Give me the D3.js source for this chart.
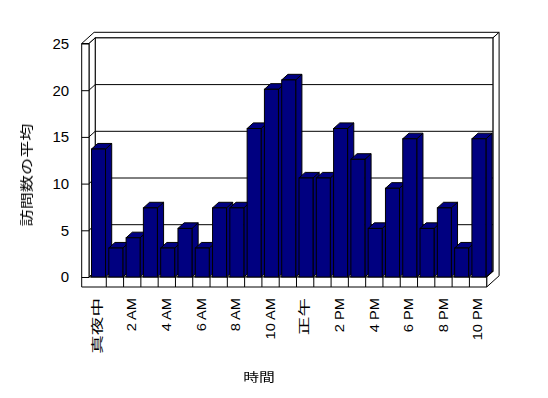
<!DOCTYPE html>
<html>
<head>
<meta charset="utf-8">
<script src="https://cdn.jsdelivr.net/npm/d3@7"></script>
<style>
  body { margin: 0; background: #fff; }
  svg { display: block; }
  text { font-family: "Liberation Sans", Arial, "Noto Sans CJK JP", sans-serif; fill: #000; }
</style>
</head>
<body>
<div id="chart"></div>
<script>
// 時間ごとの訪問数の平均 (23 hours, 11 PM is not in the sheet)
const hours = ['真夜中', '1 AM', '2 AM', '3 AM', '4 AM', '5 AM', '6 AM', '7 AM', '8 AM', '9 AM',
  '10 AM', '11 AM', '正午', '1 PM', '2 PM', '3 PM', '4 PM', '5 PM', '6 PM', '7 PM', '8 PM', '9 PM', '10 PM'];
const visits = [13.7, 3.1, 4.2, 7.4, 3.1, 5.2, 3.1, 7.4, 7.4, 15.9, 20.1, 21.1,
  10.6, 10.6, 15.9, 12.6, 5.2, 9.5, 14.8, 5.2, 7.4, 3.1, 14.8];
const yTicks = [0, 5, 10, 15, 20, 25];
const yTitle = '訪問数の平均';
const xTitle = '時間';

const width = 548, height = 398;
const plot = { left: 89, right: 486.7, top: 43.5, bottom: 277 };
const depth = { dx: 6.2, dy: -5.6 };   // 3D offset front -> back wall
const wallW = 7.3;                      // left wall thickness
const floorH = 10;                      // floor thickness
const barFill = '#000080';

const svg = d3.select('#chart').append('svg')
  .attr('width', width)
  .attr('height', height);

const x = d3.scaleBand().domain(hours).range([plot.left, plot.right]);
const y = d3.scaleLinear().domain([0, 25]).range([plot.bottom, plot.top]);

const x0 = plot.left, x1 = plot.right, y0 = y(0), y25 = y(25);
const dx = depth.dx, dy = depth.dy;
const pts = arr => arr.map(p => p.join(',')).join(' ');
const frame = svg.append('g').attr('fill', '#fff').attr('stroke', '#000').attr('stroke-width', 1);

// top of left wall + back wall
frame.append('polygon').attr('points', pts([
  [x0 - wallW, y25], [x0, y25], [x0 + dx, y25 + dy], [x1 + dx, y25 + dy],
  [x1 + 2 * dx, y25 + 2 * dy], [x0 - wallW + 2 * dx, y25 + 2 * dy]
]));

// right side of back wall and floor
frame.append('polygon').attr('points', pts([
  [x1, y0], [x1, y0 + floorH], [x1 + 2 * dx, y0 + floorH + 2 * dy],
  [x1 + 2 * dx, y25 + 2 * dy], [x1 + dx, y25 + dy], [x1 + dx, y0 + dy]
]));

// back wall face
frame.append('rect')
  .attr('x', x0 + dx).attr('y', y25 + dy)
  .attr('width', x1 - x0).attr('height', y0 - y25);

// inner face of the left wall
frame.append('polygon').attr('points', pts([
  [x0, y25], [x0 + dx, y25 + dy], [x0 + dx, y0 + dy], [x0, y0]
]));

// gridlines on back wall and left wall
const grid = yTicks.filter(v => v > 0 && v < 25);
frame.selectAll('line.grid').data(grid).enter().append('line')
  .attr('class', 'grid')
  .attr('x1', x0 + dx).attr('x2', x1 + dx)
  .attr('y1', d => y(d) + dy).attr('y2', d => y(d) + dy);
frame.selectAll('line.side').data(grid).enter().append('line')
  .attr('class', 'side')
  .attr('x1', x0).attr('x2', x0 + dx)
  .attr('y1', d => y(d)).attr('y2', d => y(d) + dy);

// floor top
frame.append('polygon').attr('points', pts([
  [x0, y0], [x1, y0], [x1 + dx, y0 + dy], [x0 + dx, y0 + dy]
]));

// front of left wall and floor
frame.append('polygon').attr('points', pts([
  [x0 - wallW, y25], [x0, y25], [x0, y0], [x1, y0], [x1, y0 + floorH], [x0 - wallW, y0 + floorH]
]));

// category ticks on floor front
frame.selectAll('line.xtick').data(hours.slice(1)).enter().append('line')
  .attr('class', 'xtick')
  .attr('x1', d => x(d)).attr('x2', d => x(d))
  .attr('y1', y0).attr('y2', y0 + floorH);

// y axis on the wall front
const yAxis = svg.append('g')
  .attr('transform', 'translate(' + x0 + ',0)')
  .call(d3.axisLeft(y).tickValues(yTicks).tickSize(wallW).tickSizeOuter(0).tickPadding(12.5));
yAxis.select('.domain').remove();
yAxis.selectAll('line').attr('stroke', '#000');
yAxis.selectAll('text')
  .attr('font-size', 15)
  .attr('font-family', '"Liberation Sans", Arial, sans-serif');

// bars
const bw = x.bandwidth();
const bars = svg.append('g').attr('stroke', '#000').attr('stroke-width', 1).attr('fill', barFill);
hours.forEach((h, i) => {
  const bx = x(h) + bw * 0.145, w = bw * 0.81, top = y(visits[i]);
  const g = bars.append('g');
  g.append('polygon').attr('points', pts([
    [bx + w, top], [bx + w + dx, top + dy], [bx + w + dx, y0 + dy], [bx + w, y0]
  ]));
  g.append('polygon').attr('points', pts([
    [bx, top], [bx + dx, top + dy], [bx + w + dx, top + dy], [bx + w, top]
  ]));
  g.append('rect').attr('x', bx).attr('y', top).attr('width', w).attr('height', y0 - top);
});

// x labels, every other hour, rotated
const isCJK = s => /[^\x00-\x7F]/.test(s);
const xAxis = svg.append('g')
  .attr('opacity', 0.999)
  .attr('transform', 'translate(0,' + y0 + ')')
  .call(d3.axisBottom(x).tickValues(hours.filter((h, i) => i % 2 === 0)).tickSize(0));
xAxis.select('.domain').remove();
xAxis.selectAll('text')
  .attr('font-size', 12)
  .attr('font-family', d => isCJK(d) ? '"Noto Sans CJK JP", sans-serif' : '"Liberation Sans", Arial, sans-serif')
  .attr('text-anchor', 'end')
  .attr('x', 0).attr('y', 0).attr('dy', '0.35em')
  .attr('transform', d => 'translate(0,21) rotate(-90) scale(' + (isCJK(d) ? 1.55 : 1.22) + ',1)');

// axis titles
const titles = svg.append('g').attr('opacity', 0.999);
titles.append('text')
  .attr('transform', 'translate(26,175) rotate(-90) scale(1.32,1)')
  .attr('text-anchor', 'middle')
  .attr('dy', '0.35em')
  .attr('font-size', 13)
  .attr('font-family', '"Noto Sans CJK JP", sans-serif')
  .text(yTitle);

titles.append('text')
  .attr('transform', 'translate(259,377) scale(1.32,1)')
  .attr('text-anchor', 'middle')
  .attr('dy', '0.38em')
  .attr('font-size', 12)
  .attr('font-family', '"Noto Sans CJK JP", sans-serif')
  .text(xTitle);
</script>
</body>
</html>
